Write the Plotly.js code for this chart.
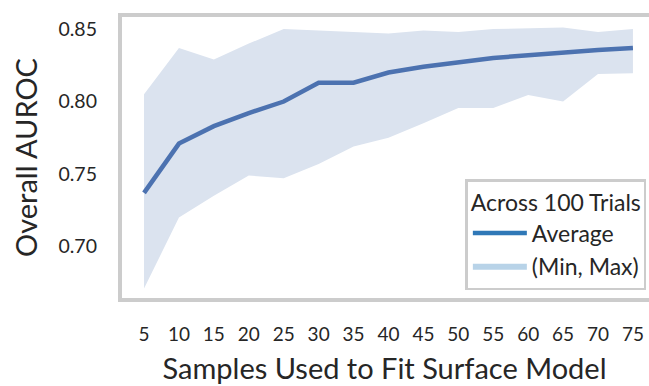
<!DOCTYPE html>
<html>
<head>
<meta charset="utf-8">
<script src="https://cdn.plot.ly/plotly-3.0.1.min.js"></script>
<style>html,body{margin:0;padding:0;background:#fff;}#chart{width:649px;height:386px;}</style>
</head>
<body>
<div id="chart"></div>
<script>
const samples = [5, 10, 15, 20, 25, 30, 35, 40, 45, 50, 55, 60, 65, 70, 75];
const avgAuroc = [0.737, 0.771, 0.783, 0.792, 0.800, 0.813, 0.813, 0.820, 0.824, 0.827, 0.830, 0.832, 0.834, 0.8355, 0.837];
const maxAuroc = [0.805, 0.837, 0.829, 0.840, 0.850, 0.849, 0.848, 0.847, 0.849, 0.848, 0.850, 0.8505, 0.851, 0.848, 0.850];
const minAuroc = [0.671, 0.720, 0.735, 0.749, 0.747, 0.757, 0.769, 0.775, 0.785, 0.7955, 0.7955, 0.8045, 0.800, 0.819, 0.8195];
const yTicks = [0.70, 0.75, 0.80, 0.85];
const yTickText = ['0.70', '0.75', '0.80', '0.85'];
const legendTitle = 'Across 100 Trials';
const legendNames = ['Average', '(Min, Max)'];

const FONT = 'Lato, "DejaVu Sans", sans-serif';
const TXT = '#262626';

const traces = [
  {x: samples, y: minAuroc, mode: 'lines', line: {width: 0, color: 'rgba(0,0,0,0)'}, showlegend: false, hoverinfo: 'skip'},
  {x: samples, y: maxAuroc, mode: 'lines', line: {width: 0, color: 'rgba(0,0,0,0)'}, fill: 'tonexty', fillcolor: '#dbe3ef', showlegend: false, hoverinfo: 'skip'},
  {x: samples, y: avgAuroc, mode: 'lines', line: {width: 4.5, color: '#4c72b0'}, showlegend: false},
  {x: [null], y: [null], mode: 'lines', name: legendNames[0], line: {width: 4.5, color: '#2f78b7'}, showlegend: true},
  {x: [null, null, null], y: [null, null, null], mode: 'lines', name: legendNames[1], line: {width: 0, color: '#b8d3e8'}, fill: 'toself', fillcolor: '#b8d3e8', showlegend: true}
];

const layout = {
  width: 649, height: 386,
  margin: {l: 120, r: 0, t: 15, b: 86},
  paper_bgcolor: '#fff', plot_bgcolor: '#fff',
  font: {family: FONT, color: TXT, size: 19},
  xaxis: {
    range: [1.56, 77.3],
    tickvals: samples,
    ticktext: samples.map(String),
    showgrid: false, zeroline: false, showline: false,
    ticks: '', ticklabelstandoff: 21,
    tickfont: {size: 19, family: FONT, color: TXT},
    title: {text: 'Samples Used to Fit Surface Model', font: {size: 29, family: FONT, color: TXT}, standoff: 14}
  },
  yaxis: {
    range: [0.6631, 0.8597],
    tickvals: yTicks,
    ticktext: yTickText,
    showgrid: false, zeroline: false, showline: false,
    ticks: '', ticklabelstandoff: 22,
    tickfont: {size: 19.5, family: FONT, color: TXT},
    title: {text: 'Overall AUROC', font: {size: 29, family: FONT, color: TXT}, standoff: 12}
  },
  shapes: [
    {type: 'rect', xref: 'paper', yref: 'paper', x0: 0, x1: 1.05, y0: 0, y1: 1, line: {color: '#cccccc', width: 4}, fillcolor: 'rgba(0,0,0,0)', layer: 'above'}
  ],
  showlegend: true,
  legend: {
    x: 0.995, xanchor: 'right', y: 0.035, yanchor: 'bottom',
    traceorder: 'normal',
    bgcolor: '#ffffff', bordercolor: '#cccccc', borderwidth: 2.5,
    font: {size: 23, family: FONT, color: TXT},
    title: {text: legendTitle, side: 'top center', font: {size: 23, family: FONT, color: TXT}},
    itemwidth: 54, tracegroupgap: 2
  }
};

Plotly.newPlot('chart', traces, layout, {displayModeBar: false, staticPlot: true});
</script>
</body>
</html>
